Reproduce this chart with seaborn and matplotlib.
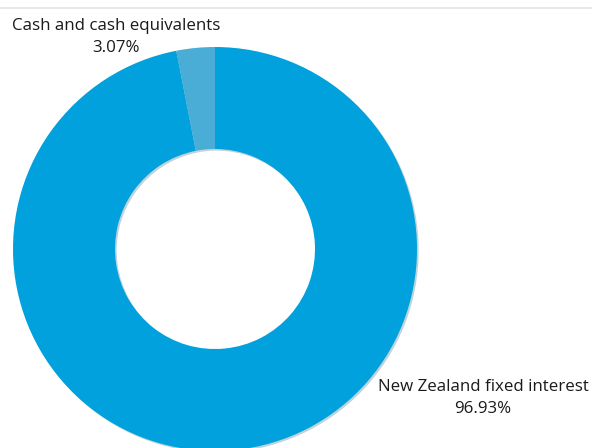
import matplotlib
matplotlib.use("Agg")
import matplotlib.pyplot as plt
import seaborn as sns
from matplotlib.lines import Line2D

sns.set_theme(style="white")
plt.rcParams['font.family'] = ['Open Sans', 'DejaVu Sans']

categories = ["New Zealand fixed interest", "Cash and cash equivalents"]
values = [96.93, 3.07]
labels = ["New Zealand fixed interest\n96.93%", "Cash and cash equivalents\n3.07%"]
colors = ["#00a1dd", "#4aadd5"]

W, H = 592, 448
cx, cy, R = 215, 249, 202

fig = plt.figure(figsize=(W / 100, H / 100), dpi=100)
ax = fig.add_axes([0, 0, 1, 1])

ax.pie(values, colors=colors, startangle=90, counterclock=False,
       radius=1.0, wedgeprops=dict(width=(R - 100) / R, linewidth=0),
       center=(0, 0), frame=True,
       shadow=dict(ox=0.006, oy=-0.006, shade=0.5, alpha=0.25))
ax.set_xlim(-cx / R, (W - cx) / R)
ax.set_ylim(-(H - cy) / R, cy / R)
ax.set_aspect('equal')
ax.axis('off')

def px(x, y):
    return (x - cx) / R, (cy - y) / R

x1, y1 = px(116, 36.5)
ax.text(x1, y1, labels[1], ha='center', va='center', fontsize=12.2,
        color='#1a1a1a', linespacing=1.5)
x2, y2 = px(483, 397.5)
ax.text(x2, y2, labels[0], ha='center', va='center', fontsize=12.2,
        color='#1a1a1a', linespacing=1.5)

fig.add_artist(Line2D([0, 1], [1 - 8 / H, 1 - 8 / H], transform=fig.transFigure,
                      color='#e4e4e4', linewidth=1.2))

fig.savefig("out.png", dpi=100)
